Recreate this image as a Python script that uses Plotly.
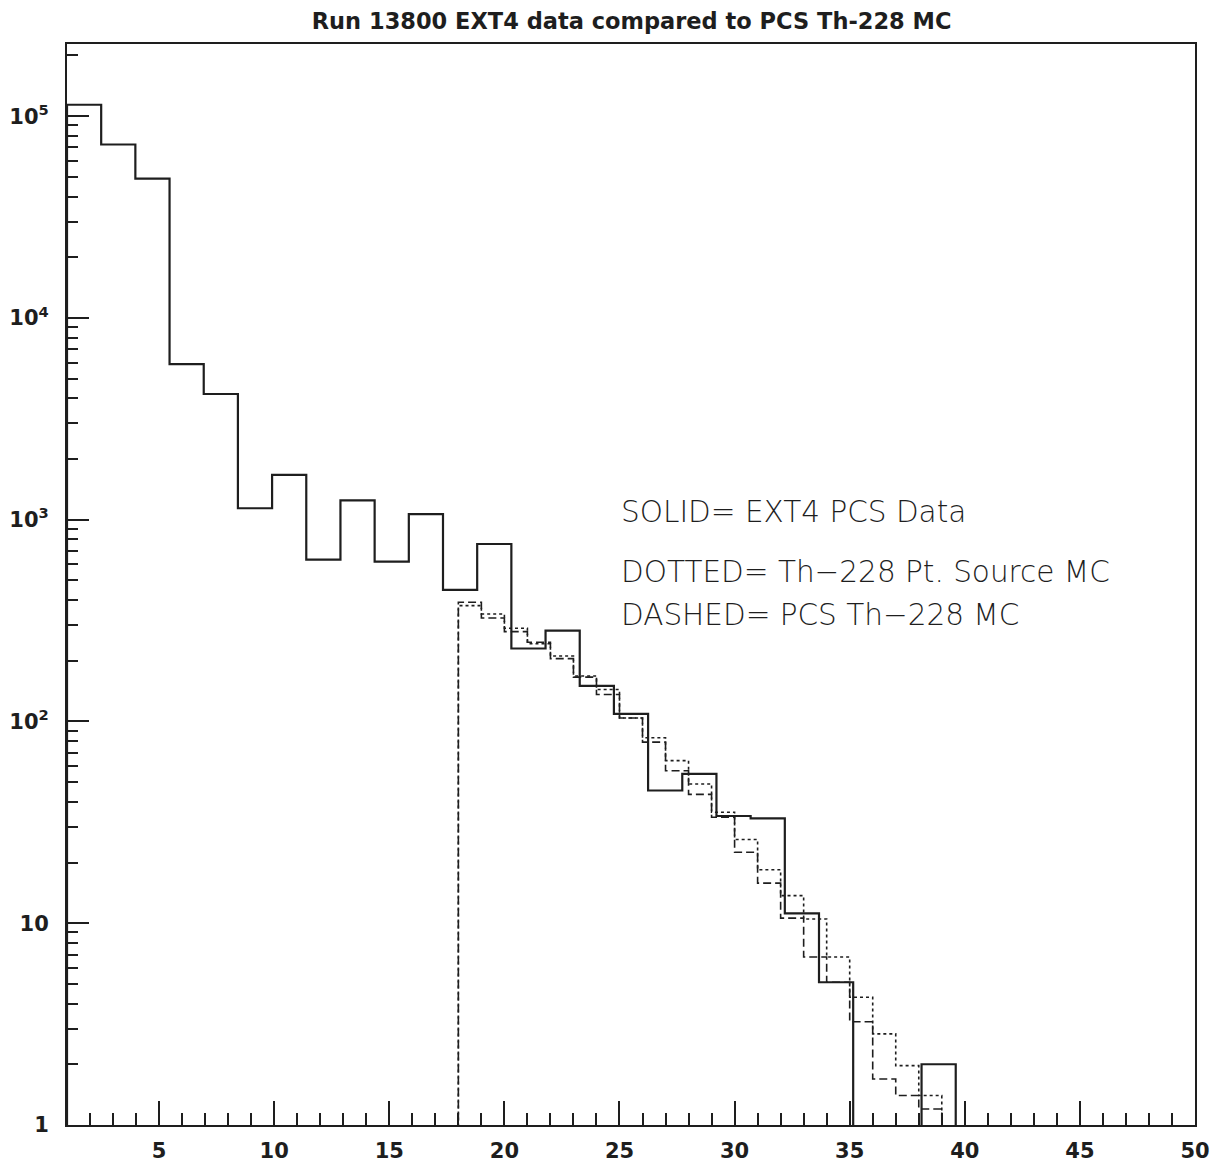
import math
import plotly.graph_objects as go

# ---------------- data ----------------
x_min, x_max = 1.0, 50.0
n_data_bins = 33
# SOLID: EXT4 PCS Data (33 equal bins between 1 and 50)
data_counts = [114000, 72400, 49000, 5900, 4200, 1140, 1670, 634, 1247, 620,
               1067, 449, 758, 230, 282, 150, 109, 45.5, 55, 34,
               33.1, 11.2, 5.1, 0, 0, 2, 0, 0, 0, 0,
               0, 0, 0]

# MC histograms: unit-width bins starting at 18
mc_first_edge = 18
mc_bin_width = 1
# DOTTED: Th-228 Pt. Source MC
pt_source_mc = [375, 341, 290, 243, 211, 168, 144, 104, 83, 64,
                49, 35.5, 26, 18.4, 13.7, 10.5, 6.8, 4.3, 2.83, 1.97,
                1.40]
# DASHED: PCS Th-228 MC
pcs_mc = [390, 326, 279, 247, 205, 166, 136, 104, 79, 57,
          43.5, 33.5, 22.5, 15.8, 10.6, 6.8, 5.1, 3.25, 1.69, 1.40,
          1.2]

title_text = "Run 13800 EXT4 data compared to PCS Th-228 MC"
legend_lines = ["SOLID= EXT4 PCS Data",
                "DOTTED= Th\u2212228 Pt. Source MC",
                "DASHED= PCS Th\u2212228 MC"]
x_tick_vals = [5, 10, 15, 20, 25, 30, 35, 40, 45, 50]
y_tick_vals = [1, 10, 100, 1000, 10000, 100000]
y_tick_text = ["1", "10", "10<sup>2</sup>", "10<sup>3</sup>", "10<sup>4</sup>", "10<sup>5</sup>"]
y_max = 2.28e5

# ---------------- helpers ----------------
FLOOR = 1e-2  # zero-content bins drawn below the visible axis range


def step_path(edges, values):
    xs, ys = [edges[0]], [FLOOR]
    for i, v in enumerate(values):
        vv = v if v > 0 else FLOOR
        xs += [edges[i], edges[i + 1]]
        ys += [vv, vv]
    xs.append(edges[-1])
    ys.append(FLOOR)
    return xs, ys


data_edges = [x_min + (x_max - x_min) * k / n_data_bins for k in range(n_data_bins + 1)]
pt_edges = [mc_first_edge + mc_bin_width * k for k in range(len(pt_source_mc) + 1)]
pcs_edges = [mc_first_edge + mc_bin_width * k for k in range(len(pcs_mc) + 1)]

INK = "#1e1e1e"
BOLD_FONT = "DejaVu Sans, Liberation Sans, Arial, sans-serif"
fig = go.Figure()

xs, ys = step_path(pt_edges, pt_source_mc)
fig.add_trace(go.Scatter(x=xs, y=ys, mode="lines",
                         line=dict(color=INK, width=1.6, dash="3px,3px"),
                         name="DOTTED", showlegend=False, hoverinfo="skip"))
xs, ys = step_path(pcs_edges, pcs_mc)
fig.add_trace(go.Scatter(x=xs, y=ys, mode="lines",
                         line=dict(color=INK, width=1.6, dash="8px,4px"),
                         name="DASHED", showlegend=False, hoverinfo="skip"))
xs, ys = step_path(data_edges, data_counts)
fig.add_trace(go.Scatter(x=xs, y=ys, mode="lines",
                         line=dict(color=INK, width=2.2),
                         name="SOLID", showlegend=False, hoverinfo="skip"))

minor_y = [k * 10 ** d for d in range(0, 6) for k in range(2, 10) if k * 10 ** d <= y_max]

fig.update_layout(
    width=1217, height=1165,
    paper_bgcolor="white", plot_bgcolor="white",
    margin=dict(l=67, r=22, t=44, b=40, autoexpand=False),
    title=dict(text="<b>" + title_text + "</b>", x=0.519, xanchor="center",
               y=1 - 21 / 1165, yanchor="middle",
               font=dict(family=BOLD_FONT, size=22.5, color=INK)),
    xaxis=dict(range=[x_min, x_max], showgrid=False, zeroline=False, automargin=False,
               showline=True, linecolor=INK, linewidth=2, mirror=True,
               ticks="inside", ticklen=24, tickwidth=2, tickcolor=INK,
               tickvals=x_tick_vals, ticktext=[str(v) for v in x_tick_vals],
               ticklabelstandoff=6,
               tickfont=dict(family=BOLD_FONT, size=21, color=INK, weight="bold"),
               minor=dict(ticks="inside", ticklen=12, tickwidth=2, tickcolor=INK,
                          dtick=1, tick0=0, showgrid=False)),
    yaxis=dict(type="log", range=[0, math.log10(y_max)], showgrid=False, zeroline=False,
               automargin=False,
               showline=True, linecolor=INK, linewidth=2, mirror=True,
               ticks="inside", ticklen=22, tickwidth=2, tickcolor=INK,
               tickvals=y_tick_vals, ticktext=y_tick_text,
               ticklabelstandoff=12,
               tickfont=dict(family=BOLD_FONT, size=21, color=INK, weight="bold"),
               minor=dict(ticks="inside", ticklen=11, tickwidth=2, tickcolor=INK,
                          tickvals=minor_y, showgrid=False)),
)

legend_y = [3.04, 2.743, 2.53]
for txt, yy in zip(legend_lines, legend_y):
    fig.add_annotation(x=25.0, y=yy, xref="x", yref="y", text=txt, showarrow=False,
                       xanchor="left", yanchor="middle",
                       font=dict(family="DejaVu Sans, Liberation Sans, sans-serif",
                                 size=29.5, color=INK, weight=200))

fig.write_html("out.html", config={"displayModeBar": False})

# remove the browser's default 8px body margin so the figure sits at the page origin
with open("out.html", "r", encoding="utf-8") as fh:
    html = fh.read()
html = html.replace("<body>", '<body style="margin:0;padding:0;">', 1)
with open("out.html", "w", encoding="utf-8") as fh:
    fh.write(html)
